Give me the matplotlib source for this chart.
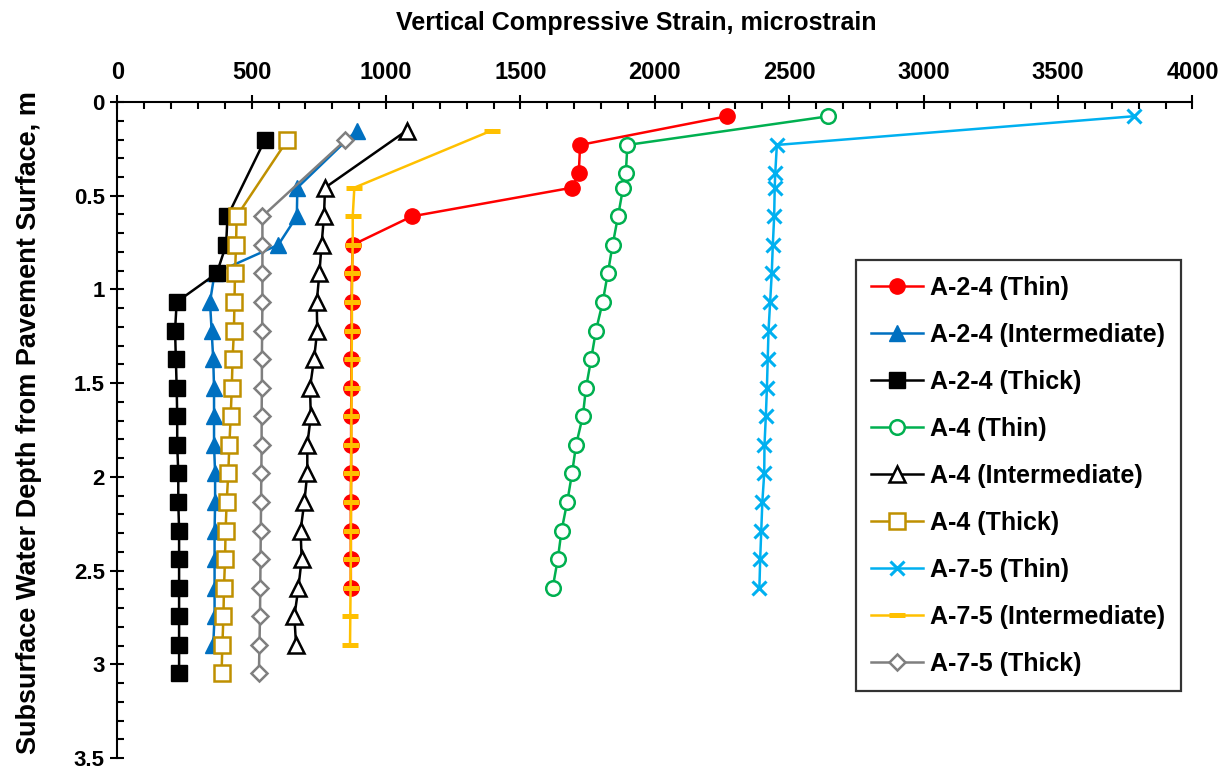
import matplotlib
matplotlib.use('Agg')
import matplotlib.pyplot as plt
from matplotlib.ticker import MultipleLocator

plt.rcParams['font.family'] = ['Liberation Sans', 'DejaVu Sans']
plt.rcParams['font.weight'] = 'bold'

# depths (m) of the sensors for each pavement section
depth_thin = [0.076, 0.229, 0.381, 0.457, 0.610, 0.762, 0.914, 1.067, 1.219,
              1.372, 1.524, 1.676, 1.829, 1.981, 2.134, 2.286, 2.438, 2.591]
depth_inter = [0.152, 0.457, 0.610, 0.762, 0.914, 1.067, 1.219, 1.372, 1.524,
               1.676, 1.829, 1.981, 2.134, 2.286, 2.438, 2.591, 2.743, 2.896]
depth_thick = [0.203, 0.610, 0.762, 0.914, 1.067, 1.219, 1.372, 1.524, 1.676,
               1.829, 1.981, 2.134, 2.286, 2.438, 2.591, 2.743, 2.896, 3.048]

# vertical compressive strain, microstrain
a24_thin = [2268, 1722, 1717, 1692, 1096, 876, 873, 872, 872,
            871, 871, 870, 870, 870, 869, 869, 869, 869]
a24_inter = [891, 670, 668, 599, 362, 345, 351, 357, 360,
             360, 360, 364, 364, 362, 362, 362, 362, 357]
a24_thick = [549, 410, 405, 370, 221, 215, 218, 221, 223,
             223, 227, 227, 230, 230, 230, 230, 230, 230]
a4_thin = [2646, 1898, 1892, 1882, 1863, 1843, 1825, 1806, 1781,
           1763, 1744, 1732, 1707, 1692, 1674, 1653, 1639, 1620]
a4_inter = [1077, 773, 769, 760, 752, 742, 744, 732, 717,
            720, 707, 707, 696, 682, 686, 674, 659, 665]
a4_thick = [633, 444, 442, 438, 436, 434, 429, 426, 422,
            417, 413, 407, 403, 401, 397, 395, 391, 388]
a75_thin = [3781, 2454, 2448, 2446, 2444, 2439, 2435, 2429, 2423,
            2420, 2417, 2413, 2408, 2407, 2400, 2396, 2392, 2389]
a75_inter = [1393, 882, 876, 876, 874, 873, 873, 872, 872,
             871, 871, 870, 870, 869, 869, 868, 867, 866]
a75_thick = [849, 540, 540, 540, 540, 539, 538, 538, 537,
             537, 536, 535, 534, 533, 532, 531, 529, 527]

fig = plt.figure(figsize=(12.28, 7.70), dpi=100)
ax = fig.add_axes([0.0955, 0.0155, 0.8755, 0.852])

lw = 1.8
mew = 1.8
ax.plot(a24_thin, depth_thin, color='#FF0000', lw=lw, marker='o', ms=11,
        label='A-2-4 (Thin)')
ax.plot(a24_inter, depth_inter, color='#0070C0', lw=lw, marker='^', ms=12,
        label='A-2-4 (Intermediate)')
ax.plot(a24_thick, depth_thick, color='black', lw=lw, marker='s', ms=11.5,
        label='A-2-4 (Thick)')
ax.plot(a4_thin, depth_thin, color='#00B050', lw=lw, marker='o', ms=10.5,
        mfc='white', mew=mew, label='A-4 (Thin)')
ax.plot(a4_inter, depth_inter, color='black', lw=lw, marker='^', ms=12,
        mfc='white', mew=mew, label='A-4 (Intermediate)')
ax.plot(a4_thick, depth_thick, color='#BF9000', lw=lw, marker='s', ms=11,
        mfc='white', mew=mew, label='A-4 (Thick)')
ax.plot(a75_thin, depth_thin, color='#00B0F0', lw=lw, marker='x', ms=10.5,
        mew=2.2, label='A-7-5 (Thin)')
ax.plot(a75_inter, depth_inter, color='#FFC000', lw=lw, marker='_', ms=12,
        mew=3.6, label='A-7-5 (Intermediate)')
ax.plot(a75_thick, depth_thick, color='#7F7F7F', lw=lw, marker='D', ms=8,
        mfc='white', mew=mew, label='A-7-5 (Thick)')

ax.set_xlim(0, 4000)
ax.set_ylim(3.5, 0)
ax.xaxis.tick_top()
ax.xaxis.set_label_position('top')
ax.xaxis.set_major_locator(MultipleLocator(500))
ax.xaxis.set_minor_locator(MultipleLocator(100))
ax.yaxis.set_minor_locator(MultipleLocator(0.1))
ax.set_yticks([0, 0.5, 1, 1.5, 2, 2.5, 3, 3.5])
ax.set_yticklabels(['0', '0.5', '1', '1.5', '2', '2.5', '3', '3.5'])

ax.tick_params(axis='both', which='major', direction='inout', length=10,
               width=1.5)
ax.tick_params(axis='both', which='minor', direction='in', length=5, width=1.5)
ax.tick_params(axis='x', which='major', pad=8, labelsize=17)
ax.tick_params(axis='y', which='major', pad=4, labelsize=16)
for t in ax.get_xticklabels() + ax.get_yticklabels():
    t.set_fontweight('bold')

for side in ['right', 'bottom']:
    ax.spines[side].set_visible(False)
for side in ['top', 'left']:
    ax.spines[side].set_linewidth(1.5)

ax.set_xlabel('Vertical Compressive Strain, microstrain', fontsize=18,
              fontweight='bold')
ax.xaxis.set_label_coords(0.483, 1.11)
ax.set_ylabel('Subsurface Water Depth from Pavement Surface, m', fontsize=19.5,
              fontweight='bold')
ax.yaxis.set_label_coords(-0.070, 0.512)

leg = ax.legend(loc='upper right', bbox_to_anchor=(0.9895, 0.759),
                fontsize=18, frameon=True, fancybox=False, edgecolor='black',
                handlelength=2.08, handletextpad=0.28, labelspacing=0.92,
                borderpad=0.62, borderaxespad=0)
leg.get_frame().set_linewidth(1.6)
for txt in leg.get_texts():
    txt.set_fontweight('bold')

fig.savefig('out.png', dpi=100, facecolor='white')
